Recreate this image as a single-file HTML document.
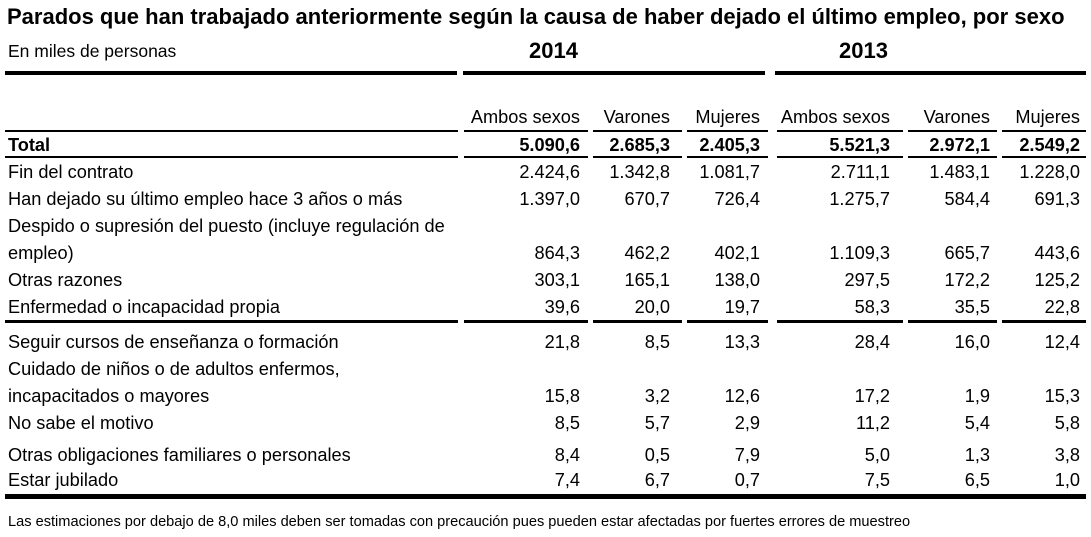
<!DOCTYPE html>
<html><head><meta charset="utf-8"><style>
body{margin:0;width:1091px;height:537px;background:#fff;position:relative;overflow:hidden;font-family:"Liberation Sans",Arial,sans-serif;color:#000}
.t{position:absolute;white-space:nowrap;font-size:18.2px;line-height:20px}
.b{font-weight:bold}
.ln{position:absolute;background:#000}
</style></head><body>
<div class="t b" style="left:7px;top:5px;font-size:22px;line-height:24px">Parados que han trabajado anteriormente según la causa de haber dejado el último empleo, por sexo</div>
<div class="t" style="left:8px;top:41px;font-size:17.5px">En miles de personas</div>
<div class="t b" style="left:529px;top:39px;font-size:22px;line-height:24px">2014</div>
<div class="t b" style="left:839px;top:39px;font-size:22px;line-height:24px">2013</div>
<div class="ln" style="left:5px;top:71px;width:452px;height:4px"></div>
<div class="ln" style="left:463px;top:71px;width:302px;height:4px"></div>
<div class="ln" style="left:775px;top:71px;width:311px;height:4px"></div>
<div class="ln" style="left:5px;top:494px;width:1081px;height:5px"></div>
<div class="t" style="left:8px;top:512px;font-size:14.6px">Las estimaciones por debajo de 8,0 miles deben ser tomadas con precaución pues pueden estar afectadas por fuertes errores de muestreo</div>
<div id="tbl"></div>
<script>
const headers=["Ambos sexos","Varones","Mujeres","Ambos sexos","Varones","Mujeres"];
const labels=["Total","Fin del contrato","Han dejado su último empleo hace 3 años o más","Despido o supresión del puesto (incluye regulación de","Otras razones","Enfermedad o incapacidad propia","Seguir cursos de enseñanza o formación","Cuidado de niños o de adultos enfermos,","No sabe el motivo","Otras obligaciones familiares o personales","Estar jubilado"];
const labels2=["","","","empleo)","","","","incapacitados o mayores","","",""];
const values=[
["5.090,6","2.685,3","2.405,3","5.521,3","2.972,1","2.549,2"],
["2.424,6","1.342,8","1.081,7","2.711,1","1.483,1","1.228,0"],
["1.397,0","670,7","726,4","1.275,7","584,4","691,3"],
["864,3","462,2","402,1","1.109,3","665,7","443,6"],
["303,1","165,1","138,0","297,5","172,2","125,2"],
["39,6","20,0","19,7","58,3","35,5","22,8"],
["21,8","8,5","13,3","28,4","16,0","12,4"],
["15,8","3,2","12,6","17,2","1,9","15,3"],
["8,5","5,7","2,9","11,2","5,4","5,8"],
["8,4","0,5","7,9","5,0","1,3","3,8"],
["7,4","6,7","0,7","7,5","6,5","1,0"]];
const rowTop=[135,162,189,243,270,297,332,386,413,445,470];
const colRight=[580,670,760,890,990,1080];
const segs=[[5,458],[464,588],[593,682],[687,768],[777,903],[908,997],[1002,1086]];
const root=document.getElementById('tbl');
function add(txt,x,y,cls,right){const d=document.createElement('div');d.className='t '+cls;d.textContent=txt;
if(right){d.style.right=(1091-x)+'px';}else d.style.left=x+'px';d.style.top=y+'px';root.appendChild(d);return d;}
headers.forEach((h,i)=>{const d=add(h,colRight[i],107,'',true);

});
function rule(y,h){segs.forEach(s=>{const d=document.createElement('div');d.className='ln';d.style.left=s[0]+'px';d.style.top=y+'px';d.style.width=(s[1]-s[0])+'px';d.style.height=h+'px';


root.appendChild(d);});}
rule(130,2);rule(156,2);rule(320,3);
labels.forEach((l,i)=>{const b=i===0?'b':'';
const d=add(l,8,labels2[i]?rowTop[i]-27:rowTop[i],b,false);


if(labels2[i]){const e=add(labels2[i],8,rowTop[i],'',false);

}
values[i].forEach((v,j)=>{const c=add(v,colRight[j],rowTop[i],b,true);

});});
</script>
</body></html>
